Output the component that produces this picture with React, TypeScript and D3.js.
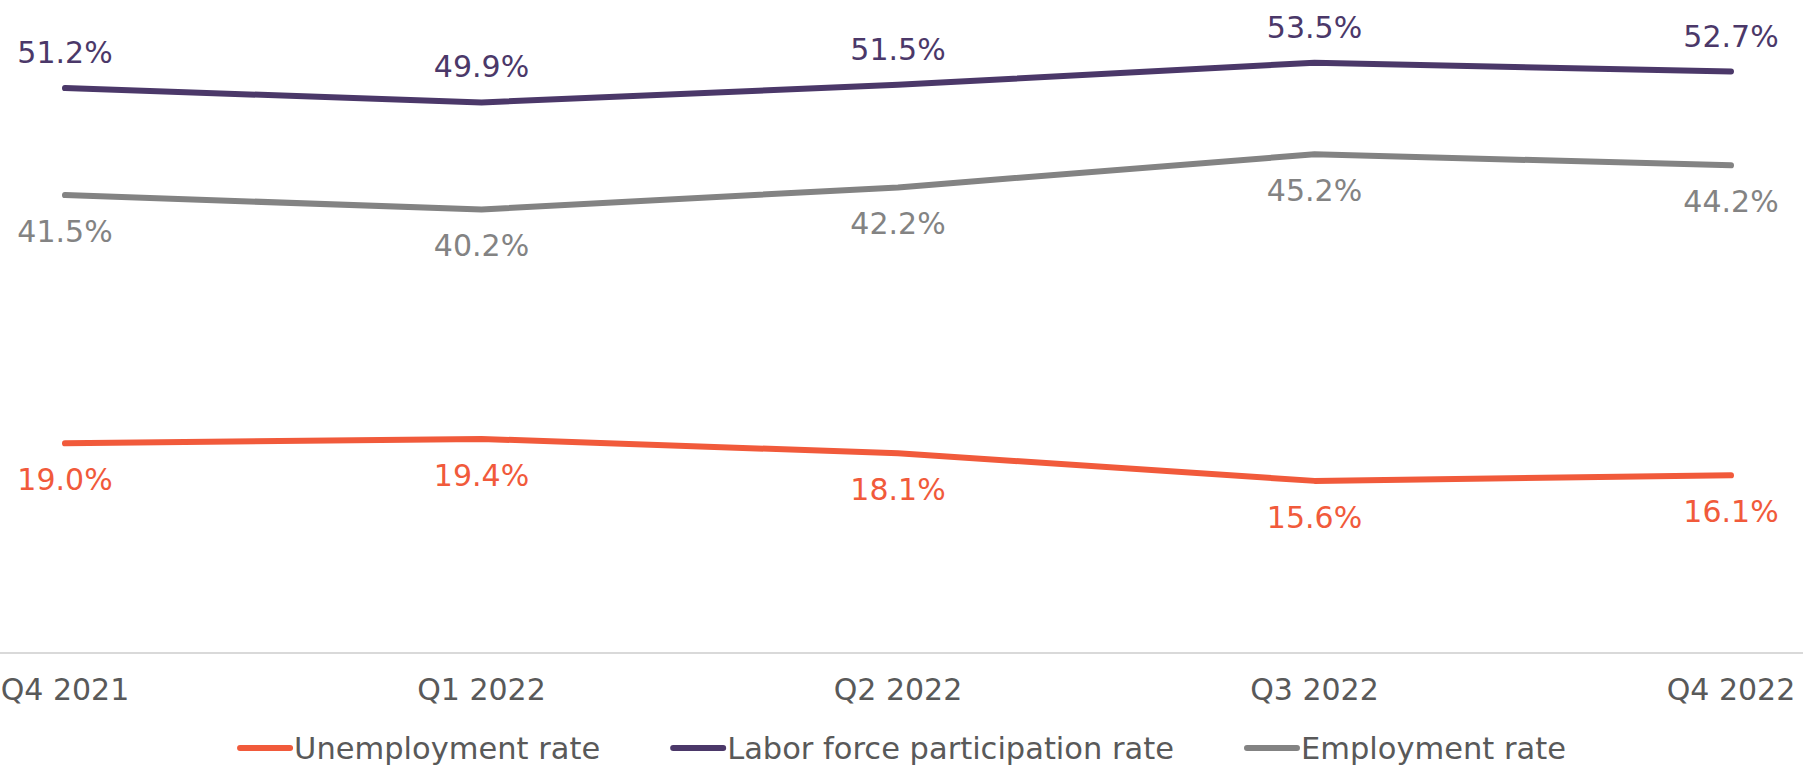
import { useEffect, useRef } from "react";
import * as d3 from "d3";

const quarters = ["Q4 2021", "Q1 2022", "Q2 2022", "Q3 2022", "Q4 2022"];
const unemployment = [19.0, 19.4, 18.1, 15.6, 16.1];
const laborForce = [51.2, 49.9, 51.5, 53.5, 52.7];
const employment = [41.5, 40.2, 42.2, 45.2, 44.2];

const seriesNames = ["Unemployment rate", "Labor force participation rate", "Employment rate"];
const seriesColors = ["#f15a3b", "#4b3869", "#838383"];
// label above (-1) or below (+1) the line
const labelSide = [1, -1, 1];

export default function App() {
  const svgRef = useRef<SVGSVGElement>(null);

  const width = 1803;
  const height = 765;

  useEffect(() => {
    const svg = d3.select(svgRef.current);
    svg.selectAll("*").remove();

    const font = "DejaVu Sans, sans-serif";
    const series = [unemployment, laborForce, employment];

    const x = d3.scalePoint().domain(quarters).range([65, 1731]);
    const y = d3.scaleLinear().domain([0, 60]).range([653, -9]);

    // baseline
    svg.append("line")
      .attr("x1", 0)
      .attr("x2", width)
      .attr("y1", y(0))
      .attr("y2", y(0))
      .attr("stroke", "#d9d9d9")
      .attr("stroke-width", 2);

    // x labels
    svg.append("g")
      .selectAll("text")
      .data(quarters)
      .join("text")
      .attr("x", (d) => x(d)!)
      .attr("y", y(0) + 47)
      .attr("text-anchor", "middle")
      .attr("font-family", font)
      .attr("font-size", 30)
      .attr("fill", "#595959")
      .text((d) => d);

    const line = d3.line<number>()
      .x((d, i) => x(quarters[i])!)
      .y((d) => y(d));

    series.forEach((vals, s) => {
      svg.append("path")
        .attr("d", line(vals))
        .attr("fill", "none")
        .attr("stroke", seriesColors[s])
        .attr("stroke-width", 6)
        .attr("stroke-linecap", "round")
        .attr("stroke-linejoin", "round");

      svg.append("g")
        .selectAll("text")
        .data(vals)
        .join("text")
        .attr("x", (d, i) => x(quarters[i])!)
        .attr("y", (d) => (labelSide[s] < 0 ? y(d) - 25 : y(d) + 47))
        .attr("text-anchor", "middle")
        .attr("font-family", font)
        .attr("font-size", 30)
        .attr("fill", seriesColors[s])
        .text((d) => d.toFixed(1) + "%");
    });

    // legend
    const legend = svg.append("g");
    const items = legend.selectAll("g")
      .data(seriesNames)
      .join("g");

    items.append("line")
      .attr("x1", 3)
      .attr("x2", 53)
      .attr("y1", 0)
      .attr("y2", 0)
      .attr("stroke", (d, i) => seriesColors[i])
      .attr("stroke-width", 6)
      .attr("stroke-linecap", "round");

    items.append("text")
      .attr("x", 57)
      .attr("y", 11)
      .attr("font-family", font)
      .attr("font-size", 30.5)
      .attr("fill", "#595959")
      .text((d) => d);

    const widths: number[] = [];
    items.select("text").each(function () {
      widths.push((this as SVGTextElement).getComputedTextLength());
    });
    const gap = 70;
    const total = d3.sum(widths) + widths.length * 57 + gap * (widths.length - 1);
    let cx = (width - total) / 2;
    items.attr("transform", (d, i) => {
      const t = `translate(${cx},748)`;
      cx += 57 + widths[i] + gap;
      return t;
    });
  }, []);

  return (
    <svg
      ref={svgRef}
      width={width}
      height={height}
      viewBox={`0 0 ${width} ${height}`}
      style={{ position: "absolute", left: 0, top: 0, background: "#fff" }}
    />
  );
}
